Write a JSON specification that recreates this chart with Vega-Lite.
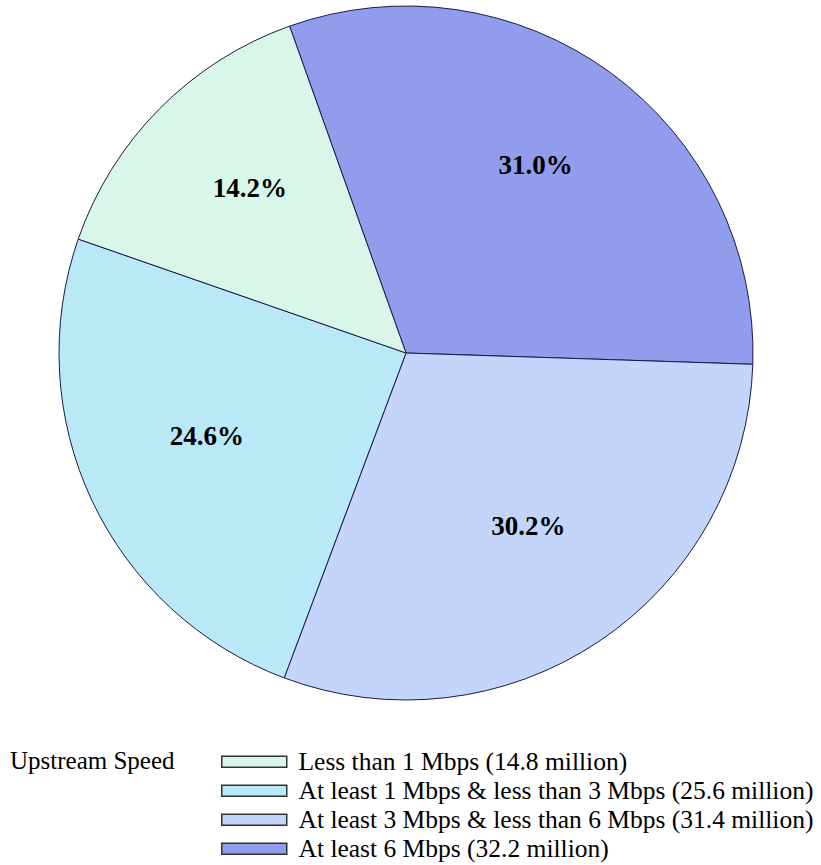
{
  "$schema": "https://vega.github.io/schema/vega-lite/v6.json",
  "autosize": "none",
  "width": 812,
  "height": 706,
  "padding": {"left": 0, "top": 0, "right": 9, "bottom": 159},
  "background": "white",
  "config": {"view": {"stroke": null}, "font": "Liberation Serif"},
  "data": {
    "values": [
      {"speed": "At least 6 Mbps (32.2 million)", "millions": 32.2, "ord": 1, "pct": "31.0%"},
      {"speed": "At least 3 Mbps & less than 6 Mbps (31.4 million)", "millions": 31.4, "ord": 2, "pct": "30.2%"},
      {"speed": "At least 1 Mbps & less than 3 Mbps (25.6 million)", "millions": 25.6, "ord": 3, "pct": "24.6%"},
      {"speed": "Less than 1 Mbps (14.8 million)", "millions": 14.8, "ord": 4, "pct": "14.2%"}
    ]
  },
  "encoding": {
    "theta": {"field": "millions", "type": "quantitative", "stack": true, "scale": {"range": [-0.342, 5.941]}},
    "order": {"field": "ord", "type": "quantitative"}
  },
  "layer": [
    {
      "mark": {"type": "arc", "outerRadius": 347, "stroke": "#1a1a4a", "strokeWidth": 1},
      "encoding": {
        "color": {
          "field": "speed",
          "type": "nominal",
          "scale": {
            "domain": [
              "Less than 1 Mbps (14.8 million)",
              "At least 1 Mbps & less than 3 Mbps (25.6 million)",
              "At least 3 Mbps & less than 6 Mbps (31.4 million)",
              "At least 6 Mbps (32.2 million)"
            ],
            "range": ["#d9f7e8", "#b9e8f6", "#c3d5fa", "#919cec"]
          },
          "legend": {
            "title": "Upstream Speed",
            "orient": "none",
            "legendX": 10,
            "legendY": 749,
            "titleOrient": "left",
            "titleAnchor": "start",
            "titleBaseline": "top",
            "titleFont": "Liberation Serif",
            "titleFontSize": 25,
            "titleFontWeight": "normal",
            "titleColor": "black",
            "titlePadding": 44,
            "labelFont": "Liberation Serif",
            "labelFontSize": 25.5,
            "labelColor": "black",
            "labelLimit": 700,
            "labelOffset": 54,
            "symbolType": "M-1,-0.55H5.5V0.55H-1Z",
            "symbolSize": 400,
            "symbolStrokeColor": "#333333",
            "symbolStrokeWidth": 1.5,
            "rowPadding": 2,
            "symbolOpacity": 1
          }
        }
      }
    },
    {
      "mark": {"type": "text", "radius": 220, "dy": -9, "font": "Liberation Serif", "fontSize": 27, "fontWeight": "bold", "color": "black"},
      "encoding": {"text": {"field": "pct", "type": "nominal"}}
    }
  ]
}
